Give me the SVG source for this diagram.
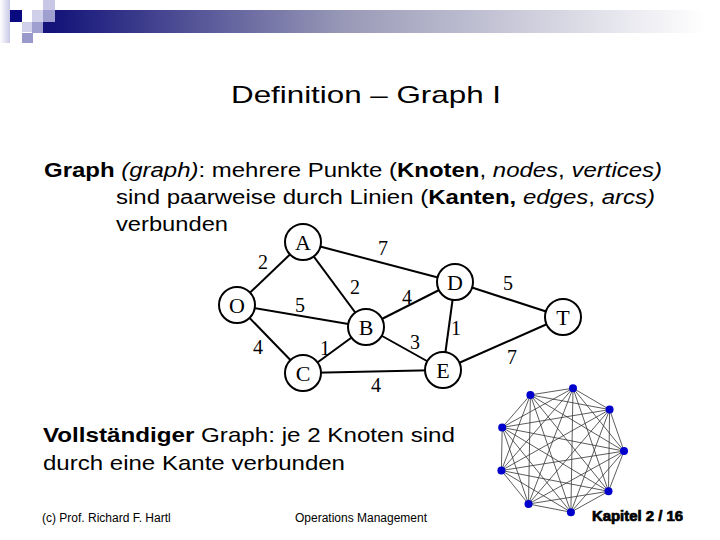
<svg xmlns="http://www.w3.org/2000/svg" width="720" height="540" viewBox="0 0 720 540">
<defs>
<linearGradient id="bar" x1="0" y1="0" x2="1" y2="0">
<stop offset="0" stop-color="#14147a"/>
<stop offset="0.45" stop-color="#9a9ab8"/>
<stop offset="1" stop-color="#ffffff"/>
</linearGradient>
<linearGradient id="lft" x1="0" y1="0" x2="1" y2="0">
<stop offset="0" stop-color="#ffffff"/>
<stop offset="1" stop-color="#c8c8e6"/>
</linearGradient>
<style>
.t{font-family:"Liberation Sans",Arial,sans-serif;fill:#000}
.n circle{fill:#fff;stroke:#000;stroke-width:2}
.n text{font-family:"Liberation Serif","Times New Roman",serif;font-size:22px;text-anchor:middle}
.w{font-family:"Liberation Serif","Times New Roman",serif;font-size:20px;text-anchor:middle}
#edges line{stroke:#000;stroke-width:2}
#kedges line{stroke:#333;stroke-width:0.8}
.dot{fill:#0000cc}
</style>
</defs>
<rect width="720" height="540" fill="#fff"/>
<!-- header decoration -->
<rect x="0" y="0" width="10" height="43" fill="url(#lft)"/>
<rect x="10" y="10" width="12" height="12" fill="#0a0a80"/>
<rect x="43" y="0" width="12" height="10" fill="#c8c8e6"/>
<rect x="32" y="10" width="11" height="12" fill="#d0d0ea"/>
<rect x="43" y="10" width="12" height="12" fill="#a0a0d0"/>
<rect x="22" y="22" width="10" height="10" fill="#d0d0ea"/>
<rect x="32" y="22" width="11" height="11" fill="#a0a0d0"/>
<rect x="22" y="33" width="11" height="10" fill="#9999cc"/>
<rect x="55" y="10" width="650" height="23" fill="url(#bar)"/>
<rect x="43" y="22" width="12" height="11" fill="#14147a"/>
<!-- title -->
<text class="t" x="231" y="103" font-size="24" textLength="270" lengthAdjust="spacingAndGlyphs">Definition – Graph I</text>
<!-- body -->
<text class="t" x="44" y="177" font-size="20" textLength="618" lengthAdjust="spacingAndGlyphs"><tspan font-weight="bold">Graph</tspan> <tspan font-style="italic">(graph)</tspan>: mehrere Punkte (<tspan font-weight="bold">Knoten</tspan>, <tspan font-style="italic">nodes</tspan>, <tspan font-style="italic">vertices)</tspan></text>
<text class="t" x="116" y="204" font-size="20" textLength="539" lengthAdjust="spacingAndGlyphs">sind paarweise durch Linien (<tspan font-weight="bold">Kanten,</tspan> <tspan font-style="italic">edges</tspan>, <tspan font-style="italic">arcs)</tspan></text>
<text class="t" x="116" y="231" font-size="20" textLength="112" lengthAdjust="spacingAndGlyphs">verbunden</text>
<!-- weighted graph -->
<g id="edges">
<line x1="303" y1="242" x2="237" y2="305"/>
<line x1="303" y1="242" x2="366" y2="327"/>
<line x1="303" y1="242" x2="455" y2="282"/>
<line x1="237" y1="305" x2="366" y2="327"/>
<line x1="237" y1="305" x2="303" y2="373"/>
<line x1="303" y1="373" x2="366" y2="327"/>
<line x1="303" y1="373" x2="443" y2="370"/>
<line x1="366" y1="327" x2="455" y2="282"/>
<line x1="366" y1="327" x2="443" y2="370"/>
<line x1="455" y1="282" x2="443" y2="370"/>
<line x1="455" y1="282" x2="563" y2="317"/>
<line x1="443" y1="370" x2="563" y2="317"/>
</g>
<g id="weights">
<text class="w" x="263" y="269">2</text>
<text class="w" x="383" y="255">7</text>
<text class="w" x="355" y="294">2</text>
<text class="w" x="300" y="312">5</text>
<text class="w" x="407" y="304">4</text>
<text class="w" x="508" y="290">5</text>
<text class="w" x="258" y="354">4</text>
<text class="w" x="325" y="355">1</text>
<text class="w" x="415" y="349">3</text>
<text class="w" x="456" y="335">1</text>
<text class="w" x="512" y="364">7</text>
<text class="w" x="376" y="392">4</text>
</g>
<g id="nodeA" class="n"><circle cx="303" cy="242" r="18"/><text x="303" y="250">A</text></g>
<g id="nodeO" class="n"><circle cx="237" cy="305" r="18"/><text x="237" y="313">O</text></g>
<g id="nodeB" class="n"><circle cx="366" cy="327" r="18"/><text x="366" y="335">B</text></g>
<g id="nodeC" class="n"><circle cx="303" cy="373" r="18"/><text x="303" y="381">C</text></g>
<g id="nodeD" class="n"><circle cx="455" cy="282" r="18"/><text x="455" y="290">D</text></g>
<g id="nodeE" class="n"><circle cx="443" cy="370" r="18"/><text x="443" y="378">E</text></g>
<g id="nodeT" class="n"><circle cx="563" cy="317" r="18"/><text x="563" y="325">T</text></g>
<!-- complete graph K9 -->
<g id="kedges">
<line x1="573.0" y1="388.2" x2="609.6" y2="409.6"/><line x1="573.0" y1="388.2" x2="624.0" y2="451.1"/><line x1="573.0" y1="388.2" x2="608.5" y2="491.3"/><line x1="573.0" y1="388.2" x2="570.9" y2="512.2"/><line x1="573.0" y1="388.2" x2="528.5" y2="504.0"/><line x1="573.0" y1="388.2" x2="501.4" y2="470.5"/><line x1="573.0" y1="388.2" x2="502.2" y2="427.4"/><line x1="573.0" y1="388.2" x2="530.4" y2="394.9"/>
<line x1="609.6" y1="409.6" x2="624.0" y2="451.1"/><line x1="609.6" y1="409.6" x2="608.5" y2="491.3"/><line x1="609.6" y1="409.6" x2="570.9" y2="512.2"/><line x1="609.6" y1="409.6" x2="528.5" y2="504.0"/><line x1="609.6" y1="409.6" x2="501.4" y2="470.5"/><line x1="609.6" y1="409.6" x2="502.2" y2="427.4"/><line x1="609.6" y1="409.6" x2="530.4" y2="394.9"/>
<line x1="624.0" y1="451.1" x2="608.5" y2="491.3"/><line x1="624.0" y1="451.1" x2="570.9" y2="512.2"/><line x1="624.0" y1="451.1" x2="528.5" y2="504.0"/><line x1="624.0" y1="451.1" x2="501.4" y2="470.5"/><line x1="624.0" y1="451.1" x2="502.2" y2="427.4"/><line x1="624.0" y1="451.1" x2="530.4" y2="394.9"/>
<line x1="608.5" y1="491.3" x2="570.9" y2="512.2"/><line x1="608.5" y1="491.3" x2="528.5" y2="504.0"/><line x1="608.5" y1="491.3" x2="501.4" y2="470.5"/><line x1="608.5" y1="491.3" x2="502.2" y2="427.4"/><line x1="608.5" y1="491.3" x2="530.4" y2="394.9"/>
<line x1="570.9" y1="512.2" x2="528.5" y2="504.0"/><line x1="570.9" y1="512.2" x2="501.4" y2="470.5"/><line x1="570.9" y1="512.2" x2="502.2" y2="427.4"/><line x1="570.9" y1="512.2" x2="530.4" y2="394.9"/>
<line x1="528.5" y1="504.0" x2="501.4" y2="470.5"/><line x1="528.5" y1="504.0" x2="502.2" y2="427.4"/><line x1="528.5" y1="504.0" x2="530.4" y2="394.9"/>
<line x1="501.4" y1="470.5" x2="502.2" y2="427.4"/><line x1="501.4" y1="470.5" x2="530.4" y2="394.9"/>
<line x1="502.2" y1="427.4" x2="530.4" y2="394.9"/>
</g>
<g id="knodes">
<circle class="dot" cx="573.0" cy="388.2" r="4"/><circle class="dot" cx="609.6" cy="409.6" r="4"/><circle class="dot" cx="624.0" cy="451.1" r="4"/><circle class="dot" cx="608.5" cy="491.3" r="4"/><circle class="dot" cx="570.9" cy="512.2" r="4"/><circle class="dot" cx="528.5" cy="504.0" r="4"/><circle class="dot" cx="501.4" cy="470.5" r="4"/><circle class="dot" cx="502.2" cy="427.4" r="4"/><circle class="dot" cx="530.4" cy="394.9" r="4"/>
</g>
<text class="t" x="43" y="442" font-size="21" textLength="412" lengthAdjust="spacingAndGlyphs"><tspan font-weight="bold">Vollständiger</tspan> Graph: je 2 Knoten sind</text>
<text class="t" x="43" y="470" font-size="21" textLength="302" lengthAdjust="spacingAndGlyphs">durch eine Kante verbunden</text>
<!-- footer -->
<text class="t" x="42" y="522" font-size="12">(c) Prof. Richard F. Hartl</text>
<text class="t" x="361" y="522" font-size="12" text-anchor="middle">Operations Management</text>
<text class="t" x="592" y="521" font-size="14" font-weight="bold" stroke="#000" stroke-width="0.7" textLength="91" lengthAdjust="spacingAndGlyphs">Kapitel 2 / 16</text>
</svg>
